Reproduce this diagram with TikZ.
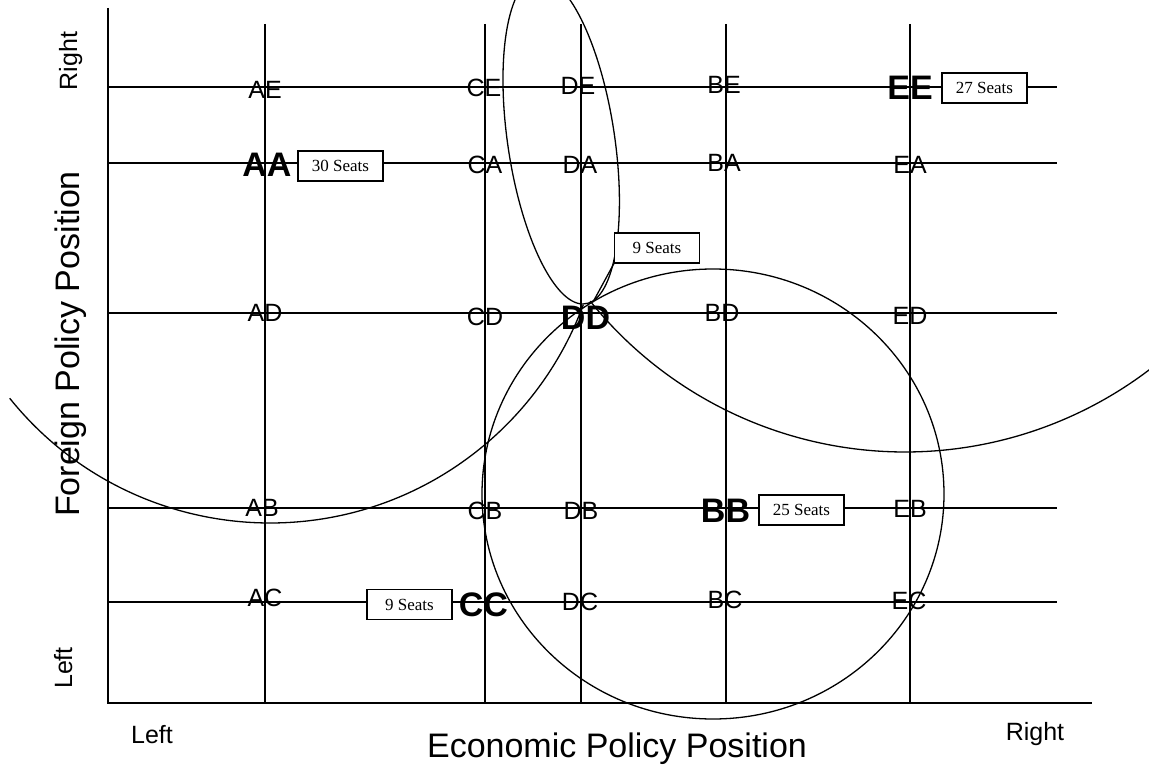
\documentclass[tikz,border=0pt]{standalone}
\usepackage{fontspec}
\setmainfont{Liberation Sans}
\newfontfamily\serifbox{Liberation Serif}
\begin{document}
\begin{tikzpicture}[x=1pt,y=-1pt,
  gridline/.style={line width=1.3pt},
  axisline/.style={line width=2.6pt},
  curve/.style={line width=1.3pt},
  lbl/.style={font=\fontsize{25}{30}\selectfont, inner sep=0pt},
  party/.style={font=\fontsize{34}{40}\selectfont\bfseries, inner sep=0pt},
  seats/.style={draw, line width=1.2pt, fill=white, minimum width=85pt, minimum height=30pt, inner sep=0pt, font=\serifbox\fontsize{17}{20}\selectfont},
  axtitle/.style={font=\fontsize{34}{40}\selectfont, inner sep=0pt},
  endlbl/.style={font=\fontsize{25}{30}\selectfont, inner sep=0pt}]
\useasboundingbox (0,0) rectangle (1149,767);
\clip (0,0) rectangle (1149,767);
% grid
\foreach \yy in {87,163,313,508,602} \draw[gridline] (108,\yy) -- (1057,\yy);
\foreach \xx in {265,485,581,726,910} \draw[gridline] (\xx,24) -- (\xx,703);
% axes
\draw[axisline] (108,8) -- (108,703) -- (1092,703);
% curves
\draw[curve] (270,189) ++(141.2:334) arc[start angle=141.2, end angle=20.3, radius=334];
\draw[curve] (905,48) ++(141.2:404) arc[start angle=141.2, end angle=45, radius=404];
\draw[curve] (713,494) ellipse[x radius=231, y radius=225];
\begin{scope}[shift={(561.2,140.6)}, xslant=-0.133]
\draw[curve] (0,0) ellipse[x radius=54, y radius=163.4];
\end{scope}
% labels
\node[lbl] (AE) at (265,90) {AE};
\node[lbl] (CE) at (484,88) {CE};
\node[lbl] (DE) at (578,86) {DE};
\node[lbl] (BE) at (724,85) {BE};
\node[party] (EE) at (910,88) {EE};
\node[seats] (sEE) at (984.5,88) {27 Seats};
\node[party] (AA) at (267,165) {AA};
\node[seats] (sAA) at (340.5,166) {30 Seats};
\node[lbl] (CA) at (485,165) {CA};
\node[lbl] (DA) at (580,165) {DA};
\node[lbl] (BA) at (724,163) {BA};
\node[lbl] (EA) at (910,165) {EA};
\node[lbl] (AD) at (265,313) {AD};
\node[lbl] (CD) at (485,317) {CD};
\node[party] (DD) at (585.5,317.5) {DD};
\node[lbl] (BD) at (722,313) {BD};
\node[lbl] (ED) at (910,316) {ED};
\node[seats] (sDD) at (657,248) {9 Seats};
\coordinate (ddtip) at (593,302);
\draw[curve] (sDD.south west) -- (ddtip);
\node[lbl] (AB) at (262,508) {AB};
\node[lbl] (CB) at (485,511) {CB};
\node[lbl] (DB) at (581,511) {DB};
\node[party] (BB) at (725.5,511) {BB};
\node[seats] (sBB) at (801.5,510) {25 Seats};
\node[lbl] (EB) at (910,509) {EB};
\node[lbl] (AC) at (265,598) {AC};
\node[seats] (sCC) at (409.5,604.5) {9 Seats};
\node[party] (CC) at (483.5,605) {CC};
\node[lbl] (DC) at (580,602) {DC};
\node[lbl] (BC) at (725,600) {BC};
\node[lbl] (EC) at (909,601) {EC};
% axis titles
\node[axtitle, anchor=base] (xt) at (617,757) {Economic Policy Position};
\node[axtitle, anchor=base, rotate=90] (yt) at (79,344) {Foreign Policy Position};
\node[endlbl, anchor=base] (xl) at (152,743) {Left};
\node[endlbl, anchor=base] (xr) at (1035,740) {Right};
\node[endlbl, anchor=base, rotate=90] (yl) at (72,668) {Left};
\node[endlbl, anchor=base, rotate=90] (yr) at (77,61) {Right};
\end{tikzpicture}
\end{document}
